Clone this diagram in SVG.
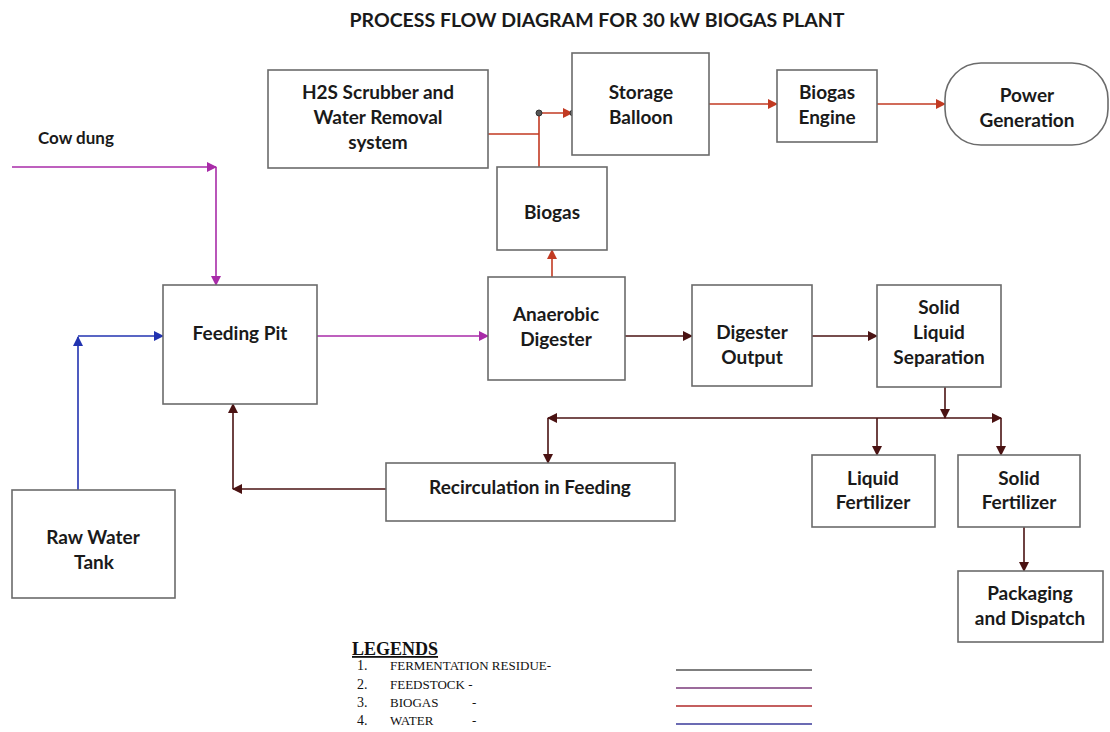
<svg xmlns="http://www.w3.org/2000/svg" width="1110" height="732" viewBox="0 0 1110 732">
<style>
.box{fill:#fff;stroke:#6b6b6b;stroke-width:1.6}
.t{font-family:Lato,"Liberation Sans",sans-serif;font-weight:bold;font-size:19px;fill:#1a1a1a;text-anchor:middle}
.lg{font-family:"Liberation Serif",serif;font-size:13px;fill:#111}
.res{stroke:#4a1212;stroke-width:1.6;fill:none}
.feed{stroke:#a82ba8;stroke-width:1.6;fill:none}
.gas{stroke:#c23a22;stroke-width:1.6;fill:none}
.wat{stroke:#2233b0;stroke-width:1.6;fill:none}
</style>
<defs>
<marker id="mRes" viewBox="0 0 10 10" refX="9" refY="5" markerWidth="10" markerHeight="10" markerUnits="userSpaceOnUse" orient="auto"><path d="M0,0 L10,5 L0,10 z" fill="#4a1212"/></marker>
<marker id="mFeed" viewBox="0 0 10 10" refX="9" refY="5" markerWidth="10" markerHeight="10" markerUnits="userSpaceOnUse" orient="auto"><path d="M0,0 L10,5 L0,10 z" fill="#a82ba8"/></marker>
<marker id="mGas" viewBox="0 0 10 10" refX="9" refY="5" markerWidth="10" markerHeight="10" markerUnits="userSpaceOnUse" orient="auto"><path d="M0,0 L10,5 L0,10 z" fill="#c23a22"/></marker>
<marker id="mWat" viewBox="0 0 10 10" refX="9" refY="5" markerWidth="10" markerHeight="10" markerUnits="userSpaceOnUse" orient="auto"><path d="M0,0 L10,5 L0,10 z" fill="#2233b0"/></marker>
</defs>
<rect width="1110" height="732" fill="#fff"/>
<text x="597" y="27" class="t" style="font-size:19.5px">PROCESS FLOW DIAGRAM FOR 30 kW BIOGAS PLANT</text>

<g id="connectors">
<path class="feed" d="M12,167 H216" marker-end="url(#mFeed)"/>
<path class="feed" d="M216,167 V285" marker-end="url(#mFeed)"/>
<path class="feed" d="M317,336 H488" marker-end="url(#mFeed)"/>
<path class="wat" d="M78,490 V337" marker-end="url(#mWat)"/>
<path class="wat" d="M78,336 H163" marker-end="url(#mWat)"/>
<path class="gas" d="M552,277 V250" marker-end="url(#mGas)"/>
<path class="gas" d="M488,134 H539 M539,167 V113"/>
<path class="gas" d="M539,113 H572" marker-end="url(#mGas)"/>
<circle cx="539" cy="113" r="3" fill="#555" stroke="#333" stroke-width="1"/>
<circle cx="573" cy="113" r="3" fill="#777" stroke="#333" stroke-width="1"/>
<path class="gas" d="M709,104 H777" marker-end="url(#mGas)"/>
<path class="gas" d="M877,104 H945" marker-end="url(#mGas)"/>
<path class="res" d="M625,336 H692" marker-end="url(#mRes)"/>
<path class="res" d="M812,336 H877" marker-end="url(#mRes)"/>
<path class="res" d="M945,387 V418" marker-end="url(#mRes)"/>
<path class="res" d="M945,418 H1001" marker-end="url(#mRes)"/>
<path class="res" d="M1001,418 V455" marker-end="url(#mRes)"/>
<path class="res" d="M877,418 V455" marker-end="url(#mRes)"/>
<path class="res" d="M945,418 H548" marker-end="url(#mRes)"/>
<path class="res" d="M548,418 V463" marker-end="url(#mRes)"/>
<path class="res" d="M386,489 H233" marker-end="url(#mRes)"/>
<path class="res" d="M233,489 V404" marker-end="url(#mRes)"/>
<path class="res" d="M1024,527 V571" marker-end="url(#mRes)"/>
</g>

<g id="cowdung"><text x="38" y="144" class="t" style="text-anchor:start;font-size:17px">Cow dung</text></g>
<g id="h2s"><rect class="box" x="268" y="70" width="220" height="98"/><text class="t" x="378" y="99">H2S Scrubber and</text><text class="t" x="378" y="124">Water Removal</text><text class="t" x="378" y="149">system</text></g>
<g id="storage"><rect class="box" x="572" y="53" width="137" height="102"/><text class="t" x="641" y="99">Storage</text><text class="t" x="641" y="124">Balloon</text></g>
<g id="engine"><rect class="box" x="777" y="70" width="100" height="72"/><text class="t" x="827" y="99">Biogas</text><text class="t" x="827" y="124">Engine</text></g>
<g id="power"><rect class="box" x="945" y="63" width="163" height="82" rx="36" ry="36"/><text class="t" x="1027" y="102">Power</text><text class="t" x="1027" y="127">Generation</text></g>
<g id="biogas"><rect class="box" x="497" y="167" width="110" height="83"/><text class="t" x="552" y="219">Biogas</text></g>
<g id="feeding"><rect class="box" x="163" y="285" width="154" height="119"/><text class="t" x="240" y="340">Feeding Pit</text></g>
<g id="digester"><rect class="box" x="488" y="277" width="137" height="103"/><text class="t" x="556" y="321">Anaerobic</text><text class="t" x="556" y="346">Digester</text></g>
<g id="output"><rect class="box" x="692" y="285" width="120" height="101"/><text class="t" x="752" y="339">Digester</text><text class="t" x="752" y="364">Output</text></g>
<g id="separation"><rect class="box" x="877" y="285" width="124" height="102"/><text class="t" x="939" y="314">Solid</text><text class="t" x="939" y="339">Liquid</text><text class="t" x="939" y="364">Separation</text></g>
<g id="recirc"><rect class="box" x="386" y="463" width="289" height="58"/><text class="t" x="530" y="494">Recirculation in Feeding</text></g>
<g id="liquid"><rect class="box" x="812" y="455" width="123" height="72"/><text class="t" x="873" y="485">Liquid</text><text class="t" x="873" y="509">Fertilizer</text></g>
<g id="solid"><rect class="box" x="958" y="455" width="122" height="72"/><text class="t" x="1019" y="485">Solid</text><text class="t" x="1019" y="509">Fertilizer</text></g>
<g id="packaging"><rect class="box" x="958" y="571" width="145" height="71"/><text class="t" x="1030" y="600">Packaging</text><text class="t" x="1030" y="625">and Dispatch</text></g>
<g id="rawwater"><rect class="box" x="12" y="490" width="163" height="108"/><text class="t" x="93" y="544">Raw Water</text><text class="t" x="94" y="569">Tank</text></g>

<g id="legend">
<text x="352" y="655" class="lg" style="font-weight:bold;font-size:18px;text-decoration:underline">LEGENDS</text>
<text x="357" y="670" class="lg" style="font-size:14px">1.</text><text x="390" y="670" class="lg">FERMENTATION RESIDUE-</text>
<text x="357" y="689" class="lg" style="font-size:14px">2.</text><text x="390" y="689" class="lg">FEEDSTOCK -</text>
<text x="357" y="707" class="lg" style="font-size:14px">3.</text><text x="390" y="707" class="lg">BIOGAS</text><text x="472" y="707" class="lg">-</text>
<text x="357" y="725" class="lg" style="font-size:14px">4.</text><text x="390" y="725" class="lg">WATER</text><text x="472" y="725" class="lg">-</text>
<line x1="676" y1="670" x2="812" y2="670" stroke="#555" stroke-width="1.5"/>
<line x1="676" y1="688" x2="812" y2="688" stroke="#7a3a7a" stroke-width="1.5"/>
<line x1="676" y1="706" x2="812" y2="706" stroke="#b02a2a" stroke-width="1.5"/>
<line x1="676" y1="724" x2="812" y2="724" stroke="#3a3a9a" stroke-width="1.5"/>
</g>
</svg>
